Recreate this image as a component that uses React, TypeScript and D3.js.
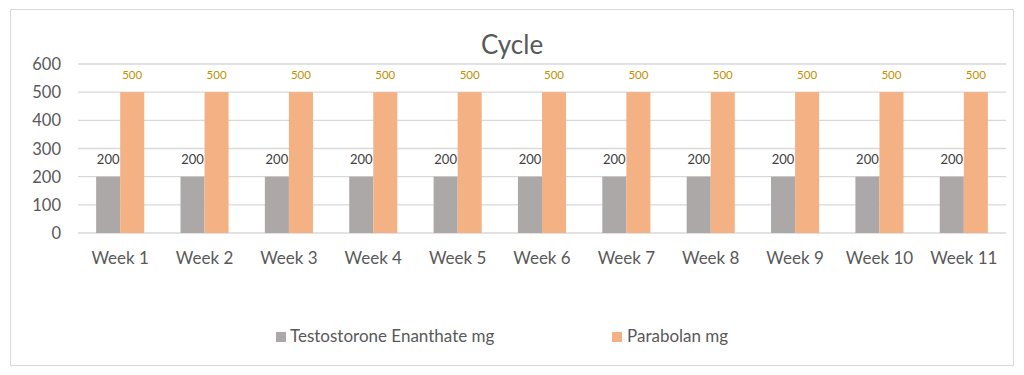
import React from "react";
import * as d3 from "d3";

const categories = ["Week 1","Week 2","Week 3","Week 4","Week 5","Week 6","Week 7","Week 8","Week 9","Week 10","Week 11"];
const testValues = [200,200,200,200,200,200,200,200,200,200,200];
const paraValues = [500,500,500,500,500,500,500,500,500,500,500];
const yTicks = [0,100,200,300,400,500,600];
const seriesNames = ["Testostorone Enanthate mg", "Parabolan mg"];
const colors = ["#ABA8A7", "#F4B183"];

export default function App() {
  const W = 1024, H = 375;
  const left = 78, right = 1006, top = 64, bottom = 233;
  const x = d3.scaleBand<string>().domain(categories).range([left, right]).paddingInner(0.43).paddingOuter(0.215);
  const y = d3.scaleLinear().domain([0, 600]).range([bottom, top]);
  const bw = x.bandwidth() / 2;
  const font = "Lato, 'Open Sans', sans-serif";
  return (
    <svg width={W} height={H} style={{ position: "absolute", left: 0, top: 0 }}>
      <rect x={0} y={0} width={W} height={H} fill="#fff" />
      <rect x={10.5} y={9.5} width={1003} height={356} fill="#fff" stroke="#D9D9D9" />
      <text x={512} y={54} textAnchor="middle" fontFamily={font} fontSize={26} fill="#595959">Cycle</text>
      {yTicks.map(t => (
        <g key={t}>
          <line x1={left} x2={right} y1={y(t)} y2={y(t)} stroke="#D9D9D9" strokeWidth={1.3} />
          <text x={61} y={y(t) + 6} textAnchor="end" fontFamily={font} fontSize={16.5} fill="#595959">{t}</text>
        </g>
      ))}
      {categories.map((c, i) => {
        const x0 = x(c)!;
        return (
          <g key={c}>
            <rect x={x0} y={y(testValues[i])} width={bw} height={y(0) - y(testValues[i])} fill={colors[0]} />
            <rect x={x0 + bw} y={y(paraValues[i])} width={bw} height={y(0) - y(paraValues[i])} fill={colors[1]} />
            <text x={x0 + bw / 2} y={y(testValues[i]) - 13} textAnchor="middle" fontFamily={font} fontSize={13} fill="#404040">{testValues[i]}</text>
            <text x={x0 + bw * 1.5} y={y(paraValues[i]) - 13} textAnchor="middle" fontFamily={font} fontSize={11.5} fill="#BF9000">{paraValues[i]}</text>
            <text x={x0 + bw} y={264} textAnchor="middle" fontFamily={font} fontSize={17} fill="#595959">{c}</text>
          </g>
        );
      })}
      <rect x={276} y={332} width={10} height={10} fill={colors[0]} />
      <text x={290} y={342} fontFamily={font} fontSize={17} fill="#595959">{seriesNames[0]}</text>
      <rect x={612} y={332} width={10} height={10} fill={colors[1]} />
      <text x={627} y={342} fontFamily={font} fontSize={17} fill="#595959">{seriesNames[1]}</text>
    </svg>
  );
}
